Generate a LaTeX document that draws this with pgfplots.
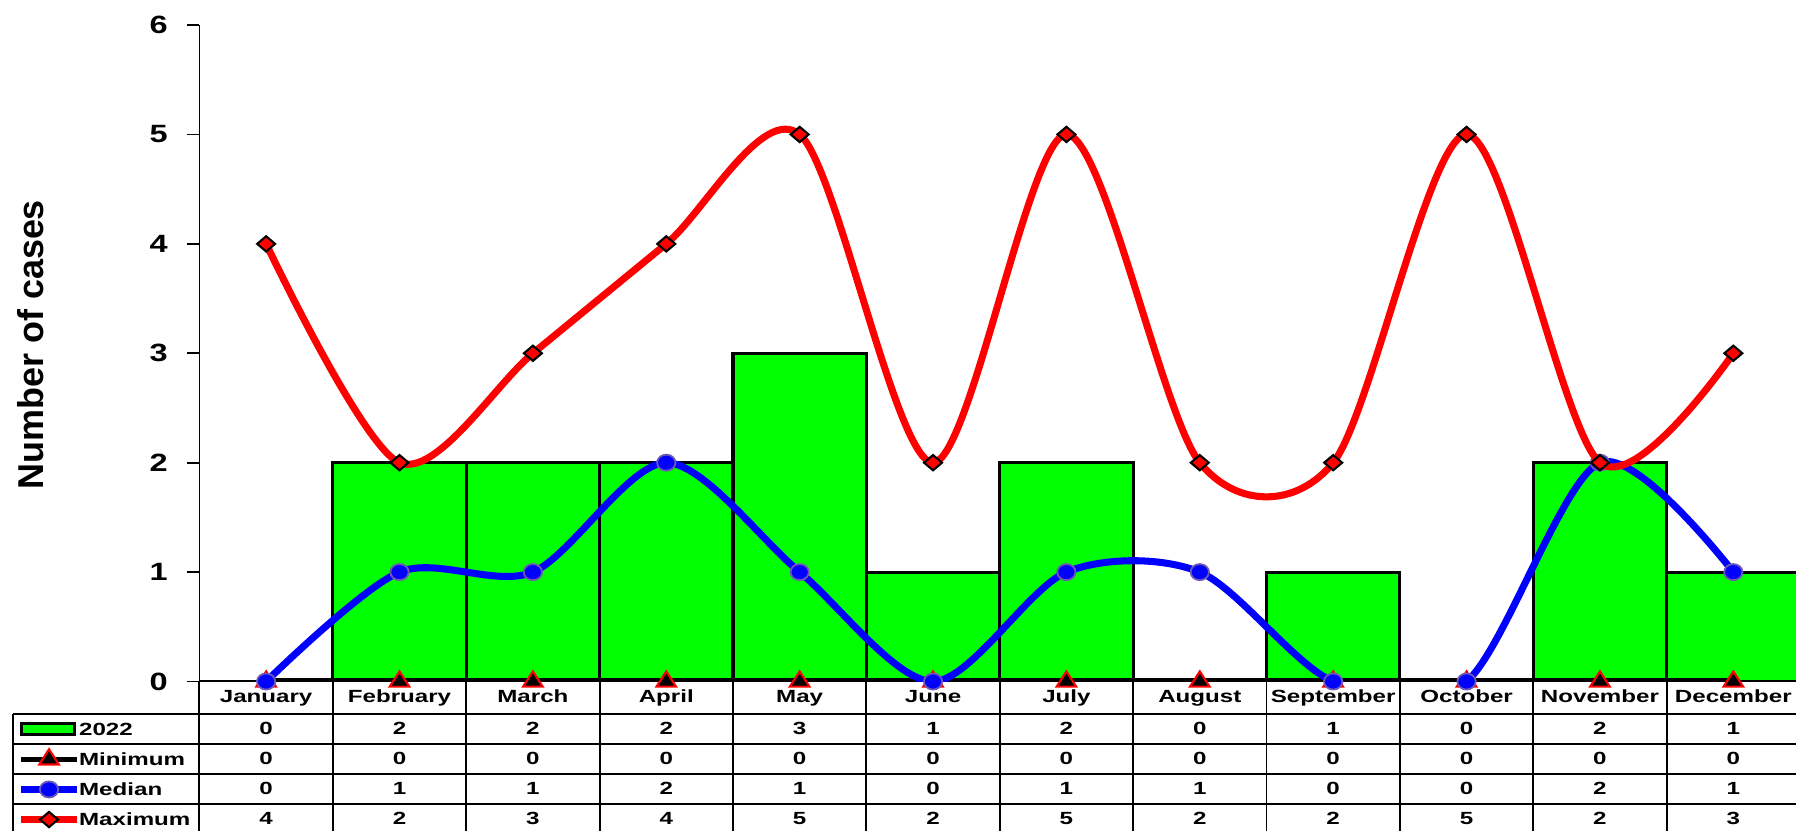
\documentclass[border=0pt]{standalone}
\usepackage{fontspec}
\setmainfont{Liberation Sans}
\newfontfamily\tblfont[FakeStretch=1.37]{Liberation Sans}
\newfontfamily\tickfont[FakeStretch=1.3]{Liberation Sans}
\usepackage{pgfplots}
\pgfplotsset{compat=1.18}
\definecolor{barg}{RGB}{0,255,0}
\definecolor{mred}{RGB}{255,0,0}
\definecolor{mblue}{RGB}{0,0,255}
\definecolor{cedge}{RGB}{110,90,180}

\begin{document}
\begin{tikzpicture}[
  tbl/.style={font=\tblfont\bfseries\fontsize{5}{6}\selectfont, inner sep=0pt, text height=1.26mm, text depth=0pt, anchor=center},
  tgrid/.style={black, line width=0.55pt}]
\begin{axis}[
  scale only axis, width=15.97cm, height=6.55cm,
  xmin=-0.5, xmax=11.5, ymin=0, ymax=6,
  axis x line*=bottom, axis y line*=left,
  axis line style={black, line width=0.5pt},
  xtick=\empty, ytick={0,...,6},
  tick align=outside, major tick length=1.2mm,
  ytick style={black, line width=0.5pt},
  /pgf/number format/assume math mode=true,
  yticklabel style={font=\tickfont\bfseries\fontsize{7.1}{8}\selectfont, anchor=east, inner sep=0pt, xshift=-1.9mm},
  ylabel={Number of cases},
  ylabel style={at={(axis description cs:-0.0975,0.513)}, anchor=base, font=\bfseries\fontsize{10.2}{12}\selectfont},
  clip mode=individual,
  legend style={at={(axis cs:-1.866,-0.2931)}, anchor=north west, draw=none, fill=none, inner sep=0pt, row sep=0pt, column sep=-0.3mm, cells={anchor=west}, nodes={inner sep=0.2mm, text height=1.9mm, text depth=0.7mm, font=\tblfont\bfseries\fontsize{5}{6}\selectfont}},
  legend image code/.code={\draw[mark repeat=2, mark phase=2, #1] plot coordinates {(0mm,0mm) (2.75mm,0mm) (5.5mm,0mm)};},
]
\addplot[ybar, bar width=1, fill=barg, draw=black, line width=0.9pt,
  legend image code/.code={\draw[fill=barg, draw=black, line width=0.9pt] (0mm,-0.55mm) rectangle (5.3mm,0.55mm);}]
  coordinates {(0,0) (1,2) (2,2) (3,2) (4,3) (5,1) (6,2) (7,0) (8,1) (9,0) (10,2) (11,1)};
\addlegendentry{2022}
\addplot[black, line width=2.2pt, mark=triangle*, mark size=3.2pt,
  mark options={solid, fill=black, draw=mred, line width=0.6pt, yscale=0.9},
  legend image code/.code={\draw[black, line width=1.4pt] (0mm,0mm) -- (5.5mm,0mm);
    \draw[fill=black, draw=mred, line width=0.6pt] plot[mark=triangle*, mark size=3.2pt, mark options={yscale=0.9}] coordinates {(2.75mm,0mm)};}]
  coordinates {(0,0) (1,0) (2,0) (3,0) (4,0) (5,0) (6,0) (7,0) (8,0) (9,0) (10,0) (11,0)};
\addlegendentry{Minimum}
\addplot[mblue, line width=2pt, smooth, mark=*, mark size=2.6pt,
  mark options={solid, fill=mblue, draw=cedge, line width=0.5pt, yscale=0.88}]
  coordinates {(0,0) (1,1) (2,1) (3,2) (4,1) (5,0) (6,1) (7,1) (8,0) (9,0) (10,2) (11,1)};
\addlegendentry{Median}
\addplot[mred, line width=2pt, smooth, mark=square*, mark size=1.8pt,
  mark options={solid, fill=mred, draw=black, line width=0.6pt, yscale=0.85, rotate=45}]
  coordinates {(0,4) (1,2) (2,3) (3,4) (4,5) (5,2) (6,5) (7,2) (8,2) (9,5) (10,2) (11,3)};
\addlegendentry{Maximum}

% table grid
\draw[tgrid] (axis cs:-1.90,-0.2931) -- (axis cs:11.5,-0.2931);
\draw[tgrid] (axis cs:-1.90,-0.5680) -- (axis cs:11.5,-0.5680);
\draw[tgrid] (axis cs:-1.90,-0.8428) -- (axis cs:11.5,-0.8428);
\draw[tgrid] (axis cs:-1.90,-1.1176) -- (axis cs:11.5,-1.1176);
\draw[tgrid] (axis cs:-1.90,-0.2931) -- (axis cs:-1.90,-1.3649);
\foreach \k in {-0.5,0.5,1.5,2.5,3.5,4.5,5.5,6.5,7.5,8.5,9.5,10.5,11.5} {
  \edef\temp{\noexpand\draw[tgrid] (axis cs:\k,0) -- (axis cs:\k,-1.3649);}
  \temp
}
% month names
\foreach \m [count=\i from 0] in {January,February,March,April,May,June,July,August,September,October,November,December} {
  \edef\temp{\noexpand\node[tbl] at (axis cs:\i,-0.1374) {\m};}
  \temp
}
% table values
\foreach \v [count=\i from 0] in {0,2,2,2,3,1,2,0,1,0,2,1} {
  \edef\temp{\noexpand\node[tbl] at (axis cs:\i,-0.428) {\v};}
  \temp
}
\foreach \v [count=\i from 0] in {0,0,0,0,0,0,0,0,0,0,0,0} {
  \edef\temp{\noexpand\node[tbl] at (axis cs:\i,-0.703) {\v};}
  \temp
}
\foreach \v [count=\i from 0] in {0,1,1,2,1,0,1,1,0,0,2,1} {
  \edef\temp{\noexpand\node[tbl] at (axis cs:\i,-0.978) {\v};}
  \temp
}
\foreach \v [count=\i from 0] in {4,2,3,4,5,2,5,2,2,5,2,3} {
  \edef\temp{\noexpand\node[tbl] at (axis cs:\i,-1.253) {\v};}
  \temp
}
\coordinate (bbsw) at (axis cs:-1.9954,-1.3649);
\coordinate (bbne) at (axis cs:11.47,6.229);
\end{axis}
\pgfresetboundingbox
\path[use as bounding box] (bbsw) rectangle (bbne);
\end{tikzpicture}
\end{document}
